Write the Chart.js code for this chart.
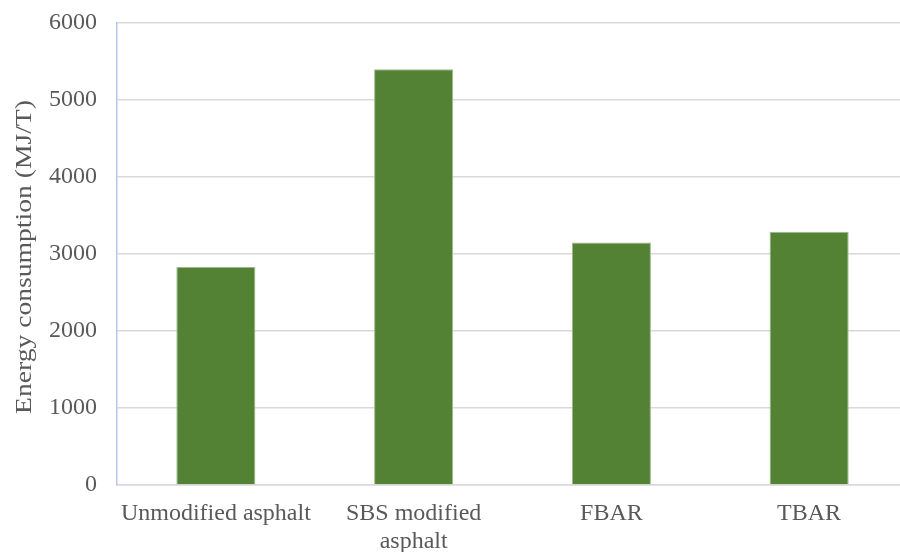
<!DOCTYPE html>
<html>
<head>
<meta charset="utf-8">
<script src="https://cdn.jsdelivr.net/npm/chart.js@4/dist/chart.umd.min.js"></script>
<style>
  html, body { margin: 0; padding: 0; background: #ffffff; overflow: hidden; }
  #wrap { width: 908px; height: 552px; }
</style>
</head>
<body>
<div id="wrap"><canvas id="chart" width="908" height="552"></canvas></div>
<script>
// Energy consumption per tonne for each binder type
const categories = [["Unmodified asphalt"], ["SBS modified", "asphalt"], ["FBAR"], ["TBAR"]];
const energyValues = [2830, 5400, 3150, 3290];
const yTicks = [0, 1000, 2000, 3000, 4000, 5000, 6000];
const yTitle = 'Energy consumption (MJ/T)';

const textColor = '#595959';
const serif = "'Liberation Serif', 'Times New Roman', serif";

// Vertical axis title, drawn a little wider than the regular face
const yTitlePlugin = {
  id: 'yTitle',
  afterDraw(chart) {
    const { ctx, chartArea } = chart;
    ctx.save();
    ctx.fillStyle = textColor;
    ctx.font = `23px ${serif}`;
    ctx.textAlign = 'center';
    ctx.textBaseline = 'alphabetic';
    ctx.translate(31, (chartArea.top + chartArea.bottom) / 2 + 3);
    ctx.rotate(-Math.PI / 2);
    ctx.scale(1.2, 1);
    ctx.fillText(yTitle, 0, 0);
    ctx.restore();
  }
};

new Chart(document.getElementById('chart'), {
  type: 'bar',
  data: {
    labels: categories,
    datasets: [{
      data: energyValues,
      backgroundColor: '#548235',
      borderColor: '#9fb98d',
      borderWidth: 1,
      categoryPercentage: 1,
      barPercentage: 0.4
    }]
  },
  options: {
    responsive: false,
    animation: false,
    layout: { padding: { top: 23, left: 0, right: 0, bottom: 0 } },
    plugins: { legend: { display: false }, tooltip: { enabled: false } },
    scales: {
      x: {
        grid: { display: false, drawTicks: false },
        border: { color: '#d9d9d9', width: 1.5 },
        ticks: {
          color: textColor,
          font: { family: serif, size: 24, lineHeight: 1.2 },
          padding: 14,
          maxRotation: 0,
          autoSkip: false
        },
        afterFit(scale) { scale.height = 67; }
      },
      y: {
        min: 0,
        max: 6000,
        afterBuildTicks(scale) { scale.ticks = yTicks.map(v => ({ value: v })); },
        grid: { color: '#d9d9d9', lineWidth: 1.5, drawTicks: false },
        border: { color: '#b4c7e7', width: 1.5 },
        ticks: {
          color: textColor,
          font: { family: serif, size: 24 },
          padding: 20,
          callback: (v) => String(v)
        },
        afterFit(scale) {
          scale.width = 117;
          scale.paddingTop = 0;
          scale.paddingBottom = 0;
        }
      }
    }
  },
  plugins: [yTitlePlugin]
});
</script>
</body>
</html>
